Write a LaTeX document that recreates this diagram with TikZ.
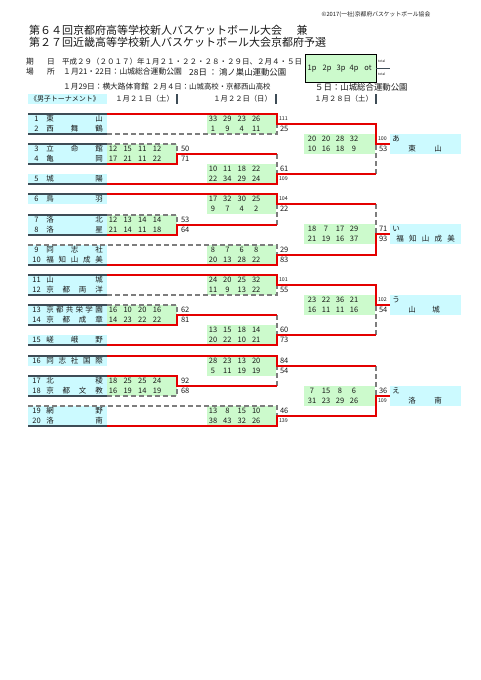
\documentclass[tikz,border=0pt]{standalone}
\usepackage{fontspec}
\newfontfamily\jp{Noto Sans CJK JP}
\definecolor{lcyan}{RGB}{204,250,255}
\definecolor{lgreen}{RGB}{204,250,204}
\definecolor{rline}{RGB}{228,0,0}
\definecolor{dline}{RGB}{62,76,86}
\definecolor{gline}{RGB}{125,125,125}
\definecolor{txt}{RGB}{25,25,25}
\tikzset{
  base/.style={inner sep=0pt, outer sep=0pt, text=txt, text height=5.5pt, text depth=1.5pt},
  t75/.style={base, font=\jp\fontsize{7.5}{8}\selectfont},
  tsm/.style={inner sep=0pt, outer sep=0pt, text=txt, anchor=west, font=\jp\fontsize{5.3}{6}\selectfont},
  ttot/.style={t75, anchor=west},
  hinfo/.style={inner sep=0pt, text=txt, anchor=west, font=\jp\fontsize{7.7}{8}\selectfont},
  htitle/.style={inner sep=0pt, text=txt, anchor=west, font=\jp\fontsize{11}{13}\selectfont},
  hdate/.style={inner sep=0pt, text=txt, anchor=east, font=\jp\fontsize{7.3}{8}\selectfont},
  rd/.style={draw=rline, line width=1.7pt, line join=miter},
  dk/.style={draw=dline, line width=1.9pt},
  ds/.style={draw=gline, line width=1.4pt, dash pattern=on 5pt off 3pt},
  bar/.style={draw=dline, line width=1.2pt},
}
\newcommand\team[4]{%
  \node[t75] (n#1) at (36.5,#2) {#1};
  \foreach \ch [count=\i] in {#4} {\node[t75] (n#1c\i) at ({50+(\i-1)*49/(#3-1)},#2) {\ch};}%
}
\newcommand\scr[4]{%
  \foreach \val [count=\i] in {#4} {\node[t75] at ({#1+(\i-1)*#2},#3) {\val};}%
}
\begin{document}
\begin{tikzpicture}[x=1pt,y=-1pt]
\useasboundingbox (0,0) rectangle (481,680);
\fill[white] (0,0) rectangle (481,680);

% ---------- header ----------
\node[inner sep=0pt, text=txt, font=\jp\fontsize{5.8}{6}\selectfont] (copy) at (376,15) {©2017(一社)京都府バスケットボール協会};
\node[htitle] (title1) at (29,30) {第６４回京都府高等学校新人バスケットボール大会};
\node[htitle, anchor=center] (title1b) at (302,30) {兼};
\node[htitle] (title2) at (29,42) {第２７回近畿高等学校新人バスケットボール大会京都府予選};

\node[hinfo] (k1) at (26,62) {期};
\node[hinfo] (k2) at (47,62) {日};
\node[hinfo, font=\jp\fontsize{7.5}{8}\selectfont] (kd) at (62,62) {平成２９（２０１７）年１月２１・２２・２８・２９日、２月４・５日};
\node[hinfo] (b1) at (26,72) {場};
\node[hinfo] (b2) at (47,72) {所};
\node[hinfo, font=\jp\fontsize{7.8}{9}\selectfont] (p1) at (63,72) {１月21・22日：山城総合運動公園};
\node[hinfo, font=\jp\fontsize{8.4}{9}\selectfont] (p2) at (189,72) {28日 ： 鴻ノ巣山運動公園};
\node[hinfo] (p3) at (63,87) {１月29日：横大路体育館};
\node[hinfo, font=\jp\fontsize{7.4}{8}\selectfont] (p4) at (152,87) {２月４日：山城高校・京都西山高校};
\node[hinfo, font=\jp\fontsize{8.4}{9}\selectfont] (p5) at (315,87) {５日：山城総合運動公園};

% legend
\node[draw=black, line width=0.8pt, fill=lgreen, minimum width=71pt, minimum height=28pt, inner sep=0pt] (leg) at (340.5,68) {};
\node[t75] (l1) at (312,68) {1p};
\node[t75] (l2) at (327,68) {2p};
\node[t75] (l3) at (341,68) {3p};
\node[t75] (l4) at (354,68) {4p};
\node[t75] (l5) at (368,68) {ot};
\coordinate (legend end) at (390,68);
\draw[draw=dline, line width=1pt] (leg.east) -- (legend end);
\node[inner sep=0pt, text=txt, font=\jp\fontsize{3.3}{4}\selectfont, anchor=west] (tot1) at (378,61) {total};
\node[inner sep=0pt, text=txt, font=\jp\fontsize{3.3}{4}\selectfont, anchor=west] (tot2) at (378,74) {total};

% date row
\node[fill=lcyan, minimum width=79pt, minimum height=10pt, inner sep=0pt] (lbl) at (67.5,99) {};
\node[inner sep=0pt, text=txt, font=\jp\fontsize{7}{8}\selectfont] (lbltext) at (65,99) {《男子トーナメント》};
\node[hdate] (d1) at (174,99) {１月２１日（土）};
\node[hdate] (d2) at (272,99) {１月２２日（日）};
\node[hdate] (d3) at (373,99) {１月２８日（土）};
\draw[bar] (177,94) -- (177,104);
\draw[bar] (276,94) -- (276,104);
\draw[bar] (376,94) -- (376,104);

% ---------- fills ----------
\foreach \a/\b in {114/134,144/164,174/184,194/204,215/235,245/265,275/295,305/325,335/345,356/366,376/396,406/426}
  \fill[lcyan] (28,\a) rectangle (107,\b);
\foreach \a in {144,215,305,376}
  \fill[lgreen] (107,\a) rectangle (177,\a+20);
\foreach \a in {114,164,194,245,275,325,356,406}
  \fill[lgreen] (207,\a) rectangle (276,\a+20);
\foreach \a in {134,224,295,386} {
  \fill[lgreen] (304,\a) rectangle (375,\a+20);
  \fill[lcyan] (390,\a) rectangle (461,\a+20);
}

% ---------- dashed (losing) paths ----------
\draw[ds] (107,134) -- (277,134) -- (277,124);
\draw[ds] (107,144) -- (177,144) -- (177,154);
\draw[ds] (277,154) -- (277,174);
\draw[ds] (376,174) -- (376,144);
\draw[ds] (107,215) -- (177,215) -- (177,225);
\draw[ds] (277,225) -- (277,204);
\draw[ds] (376,204) -- (376,234);
\draw[ds] (28,245) -- (277,245) -- (277,255);
\draw[ds] (107,295) -- (277,295) -- (277,285);
\draw[ds] (107,305) -- (177,305) -- (177,315);
\draw[ds] (277,315) -- (277,335);
\draw[ds] (376,335) -- (376,305);
\draw[ds] (277,386) -- (277,366);
\draw[ds] (107,396) -- (177,396) -- (177,386);
\draw[ds] (376,366) -- (376,396);
\draw[ds] (28,406) -- (277,406) -- (277,416);

% ---------- dark label lines ----------
\foreach \yy in {114,134,144,164,184,194,215,235,265,275,295,305,325,345,356,376,396,426}
  \draw[dk] (28,\yy) -- (107,\yy);

% ---------- red (winning) paths ----------
\draw[rd] (107,114) -- (277,114) -- (277,124) -- (376,124) -- (376,144) -- (390,144);
\draw[rd] (107,164) -- (177,164) -- (177,154) -- (277,154);
\draw[rd] (107,184) -- (277,184) -- (277,174) -- (376,174);
\draw[rd] (107,194) -- (277,194) -- (277,204) -- (376,204);
\draw[rd] (107,235) -- (177,235) -- (177,225) -- (277,225);
\draw[rd] (107,265) -- (277,265) -- (277,255) -- (376,255) -- (376,234) -- (390,234);
\draw[rd] (107,275) -- (277,275) -- (277,285) -- (376,285) -- (376,305) -- (390,305);
\draw[rd] (107,325) -- (177,325) -- (177,315) -- (277,315);
\draw[rd] (107,345) -- (277,345) -- (277,335) -- (376,335);
\draw[rd] (107,356) -- (277,356) -- (277,366) -- (376,366);
\draw[rd] (107,376) -- (177,376) -- (177,386) -- (277,386);
\draw[rd] (107,426) -- (277,426) -- (277,416) -- (376,416) -- (376,396) -- (390,396);

% ---------- teams ----------
\team{1}{119}{2}{東,山}
\team{2}{129}{3}{西,舞,鶴}
\team{3}{149}{3}{立,命,館}
\team{4}{159}{2}{亀,岡}
\team{5}{179}{2}{城,陽}
\team{6}{199}{2}{鳥,羽}
\team{7}{220}{2}{洛,北}
\team{8}{230}{2}{洛,星}
\team{9}{250}{3}{同,志,社}
\team{10}{260}{5}{福,知,山,成,美}
\team{11}{280}{2}{山,城}
\team{12}{290}{4}{京,都,両,洋}
\team{13}{310}{6}{京,都,共,栄,学,園}
\team{14}{320}{4}{京,都,成,章}
\team{15}{340}{3}{嵯,峨,野}
\team{16}{361}{5}{同,志,社,国,際}
\team{17}{381}{2}{北,稜}
\team{18}{391}{4}{京,都,文,教}
\team{19}{411}{2}{網,野}
\team{20}{421}{2}{洛,南}

% ---------- round 1 scores ----------
\scr{113}{14.7}{149}{12,15,11,12} \scr{113}{14.7}{159}{17,21,11,22}
\scr{113}{14.7}{220}{12,13,14,14} \scr{113}{14.7}{230}{21,14,11,18}
\scr{113}{14.7}{310}{16,10,20,16} \scr{113}{14.7}{320}{14,23,22,22}
\scr{113}{14.7}{381}{18,25,25,24} \scr{113}{14.7}{391}{16,19,14,19}
\node[ttot] at (181,149) {50}; \node[ttot] at (181,159) {71};
\node[ttot] at (181,220) {53}; \node[ttot] at (181,230) {64};
\node[ttot] at (181,310) {62}; \node[ttot] at (181,320) {81};
\node[ttot] at (181,381) {92}; \node[ttot] at (181,391) {68};

% ---------- round 2 scores ----------
\scr{213}{14.4}{119}{33,29,23,26} \scr{213}{14.4}{129}{1,9,4,11}
\scr{213}{14.4}{169}{10,11,18,22} \scr{213}{14.4}{179}{22,34,29,24}
\scr{213}{14.4}{199}{17,32,30,25} \scr{213}{14.4}{209}{9,7,4,2}
\scr{213}{14.4}{250}{8,7,6,8} \scr{213}{14.4}{260}{20,13,28,22}
\scr{213}{14.4}{280}{24,20,25,32} \scr{213}{14.4}{290}{11,9,13,22}
\scr{213}{14.4}{330}{13,15,18,14} \scr{213}{14.4}{340}{20,22,10,21}
\scr{213}{14.4}{361}{28,23,13,20} \scr{213}{14.4}{371}{5,11,19,19}
\scr{213}{14.4}{411}{13,8,15,10} \scr{213}{14.4}{421}{38,43,32,26}
\node[tsm] at (279,119) {111}; \node[ttot] at (280,129) {25};
\node[ttot] at (280,169) {61}; \node[tsm] at (279,179) {109};
\node[tsm] at (279,199) {104}; \node[ttot] at (280,209) {22};
\node[ttot] at (280,250) {29}; \node[ttot] at (280,260) {83};
\node[tsm] at (279,280) {101}; \node[ttot] at (280,290) {55};
\node[ttot] at (280,330) {60}; \node[ttot] at (280,340) {73};
\node[ttot] at (280,361) {84}; \node[ttot] at (280,371) {54};
\node[ttot] at (280,411) {46}; \node[tsm] at (279,421) {139};

% ---------- round 3 scores ----------
\scr{312}{14}{139}{20,20,28,32} \scr{312}{14}{149}{10,16,18,9}
\scr{312}{14}{229}{18,7,17,29} \scr{312}{14}{239}{21,19,16,37}
\scr{312}{14}{300}{23,22,36,21} \scr{312}{14}{310}{16,11,11,16}
\scr{312}{14}{391}{7,15,8,6} \scr{312}{14}{401}{31,23,29,26}
\node[tsm] at (378,139) {100}; \node[ttot] at (379,149) {53};
\node[ttot] at (379,229) {71}; \node[ttot] at (379,239) {93};
\node[tsm] at (378,300) {102}; \node[ttot] at (379,310) {54};
\node[ttot] at (379,391) {36}; \node[tsm] at (378,401) {109};

% ---------- block winners ----------
\node[t75] (wa) at (396,139) {あ};
\node[t75] (wa1) at (412,149) {東}; \node[t75] (wa2) at (438,149) {山};
\node[t75] (wi) at (396,229) {い};
\foreach \ch [count=\i] in {福,知,山,成,美} \node[t75] (wi\i) at ({400+(\i-1)*12.75},239) {\ch};
\node[t75] (wu) at (396,300) {う};
\node[t75] (wu1) at (412,310) {山}; \node[t75] (wu2) at (436,310) {城};
\node[t75] (we) at (396,391) {え};
\node[t75] (we1) at (412,401) {洛}; \node[t75] (we2) at (438,401) {南};
\end{tikzpicture}
\end{document}
